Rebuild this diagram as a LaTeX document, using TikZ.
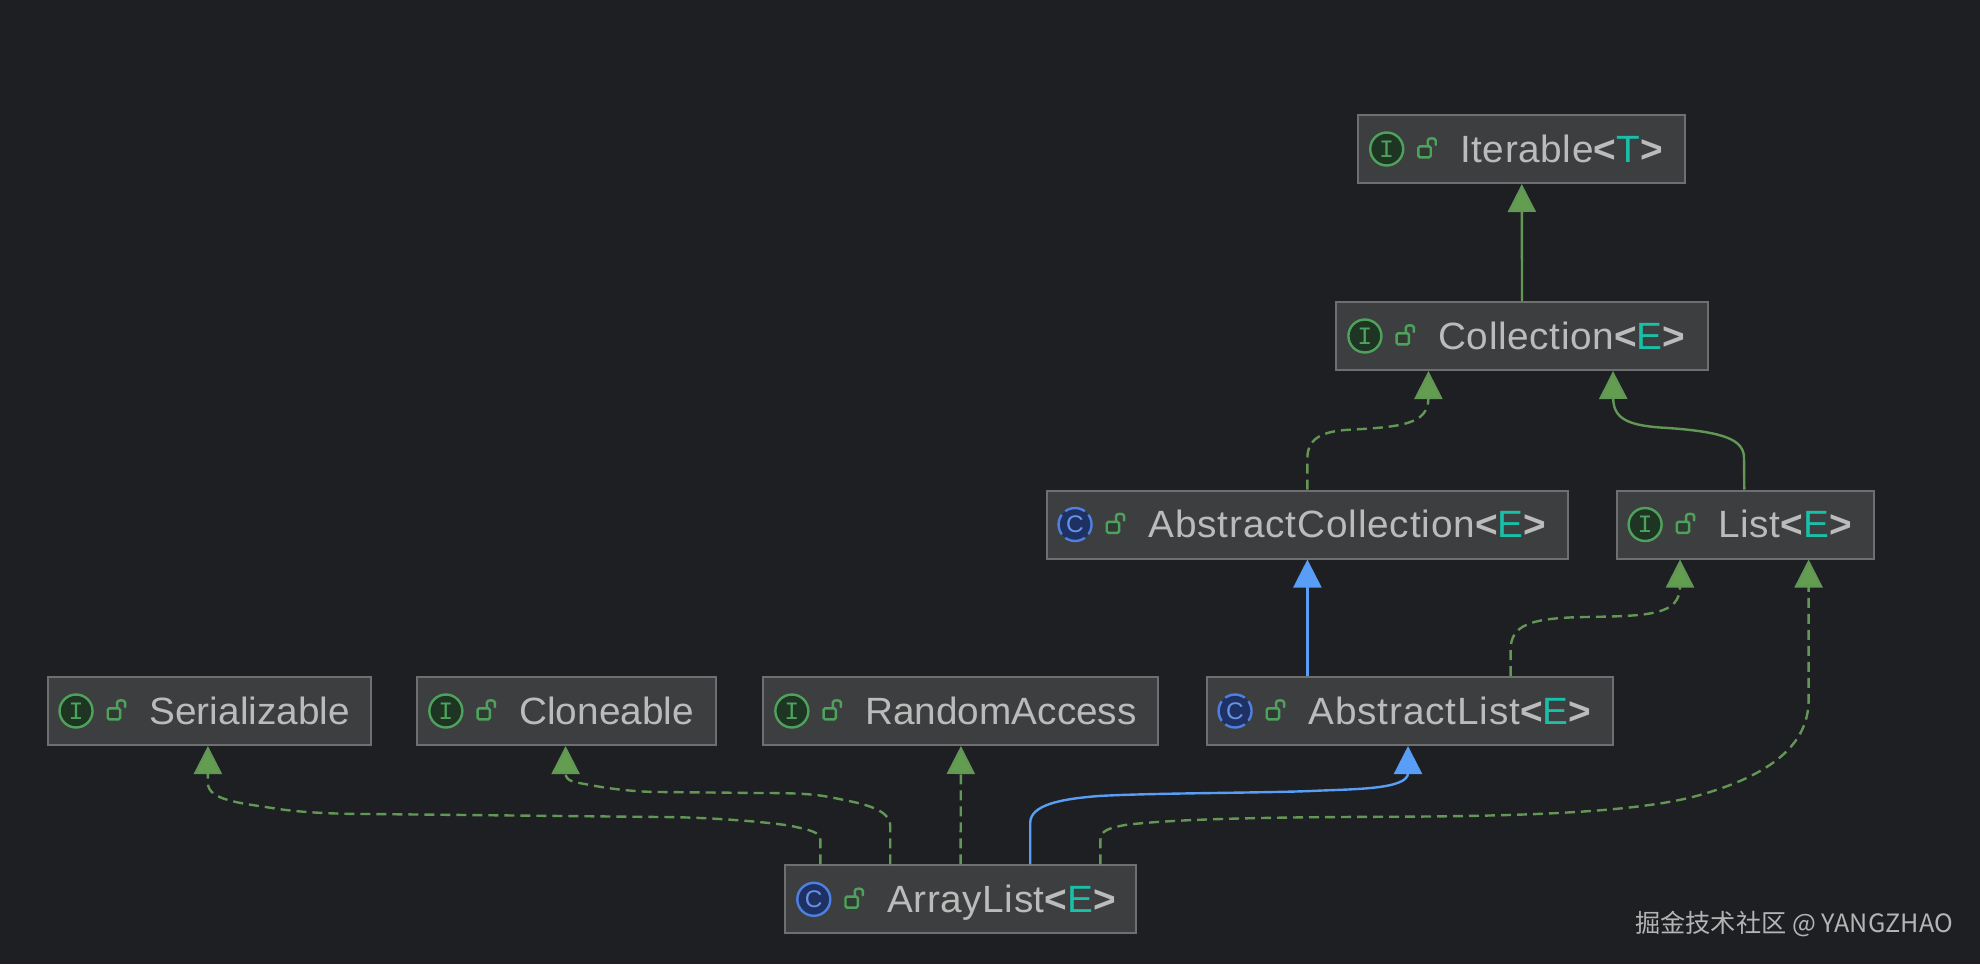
\documentclass[tikz,border=0pt]{standalone}
\usepackage{fontspec}
\setmainfont[FakeStretch=1.02]{Liberation Sans}
\newfontfamily\cjk{Noto Sans CJK SC}
\newfontfamily\markfont{Liberation Mono}
\usetikzlibrary{arrows.meta}
\definecolor{bgdark}{HTML}{1E1F22}
\definecolor{boxfill}{HTML}{3D3E3F}
\definecolor{boxline}{HTML}{6E6F70}
\definecolor{labelgray}{HTML}{BBBBBB}
\definecolor{typeteal}{HTML}{1ABFA8}
\definecolor{arrowgreen}{HTML}{629755}
\definecolor{tipgreen}{HTML}{639E50}
\definecolor{arrowblue}{HTML}{589DF6}
\definecolor{ifaceline}{HTML}{4FA25C}
\definecolor{ifacefill}{HTML}{1F3524}
\definecolor{classline}{HTML}{4F7FE0}
\definecolor{classfill}{HTML}{1D3263}
\newcommand{\gen}[1]{{\bfseries<}\textcolor{typeteal}{#1}{\bfseries>}}
\newcommand{\tracked}[2]{{\addfontfeature{LetterSpace=#1}#2}}
\begin{document}
\begin{tikzpicture}[x=1pt,y=-1pt,
    umlbox/.style={draw=boxline,fill=boxfill,line width=2pt,minimum height=68pt,inner xsep=0pt,inner ysep=0pt,align=left,text=labelgray,font=\fontsize{38}{45}\selectfont},
    ifacering/.style={circle,draw=ifaceline,fill=ifacefill,line width=2.4pt,minimum size=33pt,inner sep=0pt,text=ifaceline,font=\markfont\fontsize{25}{25}\selectfont},
    classring/.style={circle,draw=classline,fill=classfill,line width=2.4pt,minimum size=33pt,inner sep=0pt,text=classline!85!white,font=\fontsize{24}{24}\selectfont},
    abstractring/.style={classring,dash pattern=on 20.9pt off 5pt,dash phase=10.45pt},
    lockline/.style={draw=ifaceline,line width=2.4pt,line cap=round,rounded corners=1.5pt},
    implements/.style={draw=arrowgreen,line width=2.4pt,dash pattern=on 10pt off 6pt,-{Triangle[length=28pt,width=28pt,fill=tipgreen]}},
    interfaceext/.style={draw=arrowgreen,line width=2.4pt,-{Triangle[length=28pt,width=28pt,fill=tipgreen]}},
    classext/.style={draw=arrowblue,line width=2.4pt,-{Triangle[length=28pt,width=28pt,fill=arrowblue]}}]
    %BACKGROUND
    \fill[bgdark] (0,0) rectangle (1980,964);
    %BOXES
    \foreach \name/\cx/\cy/\w/\ring/\kind/\txt in {
      iterable/1521.8/149/327.2/ifacering/I/{\tracked{1.6}{Iterable}\gen{T}},
      collection/1522/336/371.2/ifacering/I/{\tracked{1.6}{Collection}\gen{E}},
      abstractCollection/1307.4/524.5/521.7/abstractring/C/{\tracked{2.2}{AbstractCollection}\gen{E}},
      list/1745.3/524.5/257.4/ifacering/I/{\tracked{1.6}{List}\gen{E}},
      abstractList/1409.9/711/406.7/abstractring/C/{\tracked{2.2}{AbstractList}\gen{E}},
      serializable/209.2/711/323.3/ifacering/I/{Serializable},
      cloneable/566.9/711/299.1/ifacering/I/{Cloneable},
      randomAccess/960.9/711/395.1/ifacering/I/{RandomAccess},
      arrayList/960.6/899.3/350.6/classring/C/{\tracked{1.5}{ArrayList}\gen{E}}}
    {
      \node[umlbox,minimum width=\w pt,text width=\w pt] (\name) at (\cx,\cy)
        {\rule[-10pt]{0pt}{46pt}\hspace*{102pt}\txt};
      \node[\ring] (\name-icon) at ([xshift=29.5pt]\name.west) {\kind};
      \begin{scope}[shift={(\name.west)}]
        \draw[lockline,fill=ifacefill!50!boxfill] (61.2,-2.7) rectangle (73.5,8.3);
        \draw[lockline] (70.5,-3) -- (70.5,-7) .. controls (70.5,-11.5) and (78.5,-11.5) .. (78.5,-7) -- (78.5,-4);
      \end{scope}
    }
    %EXTENDS
    \draw[interfaceext] (collection.north) -- (iterable.south);
    \draw[classext] (abstractList.north -| abstractCollection.south) -- (abstractCollection.south);
    \draw[interfaceext] ([xshift=-1pt]list.north) -- (1744,458) .. controls (1744,440) and (1725,432) .. (1668,428)
      .. controls (1630,426) and (1613.2,420) .. (1613.2,398) -- ([xshift=91pt]collection.south);
    \draw[classext] ([xshift=69.6pt]arrayList.north) -- (1030.2,823) .. controls (1030.2,805) and (1060,799) .. (1098.8,796)
      .. controls (1150,793) and (1260,793) .. (1311,791) .. controls (1350,789) and (1408,790) .. (1408,773) -- ([xshift=-1.9pt]abstractList.south);
    %IMPLEMENTS
    \draw[implements] (abstractCollection.north) -- (1307.4,458) .. controls (1307.4,440) and (1320,432) .. (1345,430)
      .. controls (1400,427) and (1428.4,425) .. (1428.4,398) -- ([xshift=-93.6pt]collection.south);
    \draw[implements] ([xshift=100.7pt]abstractList.north) -- (1510.6,650) .. controls (1510.6,625) and (1530,618) .. (1585,617)
      .. controls (1650,616) and (1680,615) .. (1680,586) -- ([xshift=-65.3pt]list.south);
    \draw[implements] ([xshift=139.8pt]arrayList.north) -- (1100.4,840) .. controls (1100.4,830) and (1110,828) .. (1125,825)
      .. controls (1180,818) and (1300,817) .. (1400,816.7) .. controls (1530,816) and (1640,812) .. (1700,795)
      .. controls (1770,775) and (1808.6,745) .. (1808.6,700) -- (1808.6,586) -- ([xshift=63.3pt]list.south);
    \draw[implements] ([xshift=-140.2pt]arrayList.north) -- (820.4,840) .. controls (820.4,832) and (810,830) .. (790,825.7)
      .. controls (760,821) and (700,817) .. (660,817) -- (369,814) .. controls (320,814) and (290,811) .. (272,808)
      .. controls (240,803) and (207.9,800) .. (207.9,783) -- (207.9,773) -- ([xshift=-1.3pt]serializable.south);
    \draw[implements] ([xshift=-70.4pt]arrayList.north) -- (890.2,826) .. controls (890.2,808) and (860,803) .. (829,797)
      .. controls (810,793) and (780,793) .. (760,793) -- (660,792) .. controls (630,792) and (600,787) .. (590,785)
      .. controls (575,782) and (565.6,782) .. (565.6,773) -- ([xshift=-1.3pt]cloneable.south);
    \draw[implements] (arrayList.north) -- (randomAccess.south);
    %WATERMARK
    \node[anchor=base east,inner sep=0pt,text=labelgray!110,font=\cjk\fontsize{25.2}{30}\selectfont] (watermark) at (1953,932.7) {掘金技术社区 @ YANGZHAO};
\end{tikzpicture}
\end{document}
